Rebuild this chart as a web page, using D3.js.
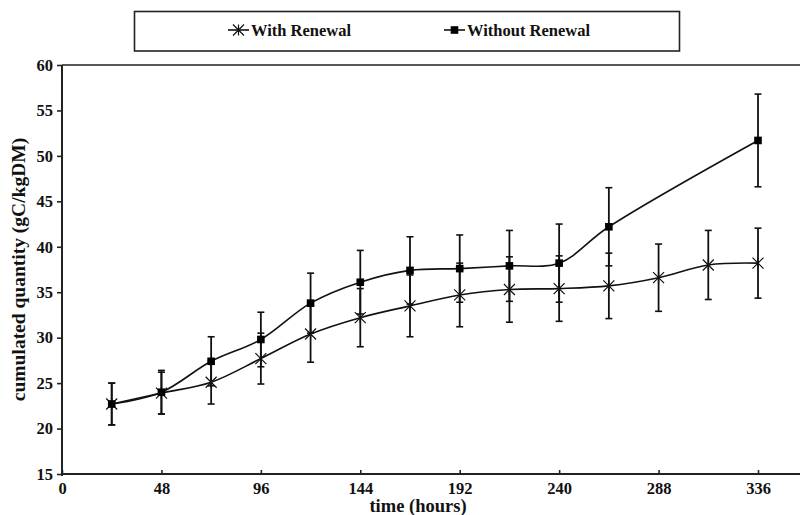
<!DOCTYPE html>
<html>
<head>
<meta charset="utf-8">
<script src="https://cdn.jsdelivr.net/npm/d3@7"></script>
<style>
  html, body { margin: 0; padding: 0; background: #fff; }
  svg { display: block; }
  text { font-family: "Liberation Serif", "Times New Roman", serif; font-weight: bold; fill: #111; }
</style>
</head>
<body>
<svg id="chart" width="800" height="515"></svg>
<script>
// Sampling times (hours)
const hoursWith = [24, 48, 72, 96, 120, 144, 168, 192, 216, 240, 264, 288, 312, 336];
const valuesWith = [22.7, 23.9, 25.1, 27.7, 30.4, 32.2, 33.5, 34.7, 35.3, 35.4, 35.7, 36.6, 38.0, 38.2];
const errorsWith = [2.3, 2.3, 2.4, 2.8, 3.1, 3.2, 3.4, 3.5, 3.6, 3.6, 3.6, 3.7, 3.8, 3.85];

const hoursWithout = [24, 48, 72, 96, 120, 144, 168, 192, 216, 240, 264, 336];
const valuesWithout = [22.7, 24.0, 27.4, 29.8, 33.8, 36.1, 37.4, 37.6, 37.9, 38.2, 42.2, 51.7];
const errorsWithout = [2.3, 2.4, 2.7, 3.0, 3.3, 3.5, 3.7, 3.7, 3.9, 4.3, 4.3, 5.1];

const xTicks = [0, 48, 96, 144, 192, 240, 288, 336];
const yTicks = [15, 20, 25, 30, 35, 40, 45, 50, 55, 60];
const seriesNames = ["With Renewal", "Without Renewal"];

const svg = d3.select("#chart");
const margin = { left: 62, top: 65, bottom: 474 };

const x = d3.scaleLinear().domain([0, 360]).range([margin.left, margin.left + 360 * (696 / 336)]);
const y = d3.scaleLinear().domain([15, 60]).range([margin.bottom, margin.top]);

// Plot frame (top border runs off the right side)
svg.append("line")
  .attr("x1", x(0)).attr("x2", 800)
  .attr("y1", y(60)).attr("y2", y(60))
  .attr("stroke", "#222").attr("stroke-width", 1.6);

// X axis: ticks point inward
const xAxis = svg.append("g")
  .attr("transform", `translate(0,${y(15)})`)
  .call(d3.axisBottom(x).tickValues(xTicks).tickSize(-4).tickPadding(8).tickFormat(d3.format("d")));
xAxis.select(".domain").attr("d", `M${x(0)},0H800`).attr("stroke", "#222").attr("stroke-width", 2);
xAxis.selectAll(".tick line").attr("stroke", "#222").attr("stroke-width", 1.6);
xAxis.selectAll(".tick text").style("font-size", "16.5px");

// Y axis: ticks point outward
const yAxis = svg.append("g")
  .attr("transform", `translate(${x(0)},0)`)
  .call(d3.axisLeft(y).tickValues(yTicks).tickSize(5).tickPadding(4).tickFormat(d3.format("d")));
yAxis.select(".domain").attr("d", `M0,${y(60)}V${y(15) + 2}`).attr("stroke", "#222").attr("stroke-width", 2);
yAxis.selectAll(".tick line").attr("stroke", "#222").attr("stroke-width", 1.6);
yAxis.selectAll(".tick text").style("font-size", "16.5px");

// Axis titles
svg.append("text")
  .attr("x", 418).attr("y", 512)
  .attr("text-anchor", "middle").style("font-size", "18.5px")
  .text("time (hours)");
svg.append("text")
  .attr("transform", `translate(25,${(y(15) + y(60)) / 2}) rotate(-90)`)
  .attr("text-anchor", "middle").style("font-size", "19.5px")
  .text("cumulated quantity (gC/kgDM)");

const withData = hoursWith.map((h, i) => ({ h, v: valuesWith[i], e: errorsWith[i] }));
const withoutData = hoursWithout.map((h, i) => ({ h, v: valuesWithout[i], e: errorsWithout[i] }));

const line = d3.line().x(d => x(d.h)).y(d => y(d.v)).curve(d3.curveCatmullRom.alpha(0.5));

function drawErrorBars(data) {
  const g = svg.append("g").attr("stroke", "#111").attr("stroke-width", 1.8);
  data.forEach(d => {
    g.append("line").attr("x1", x(d.h)).attr("x2", x(d.h))
      .attr("y1", y(d.v - d.e)).attr("y2", y(d.v + d.e));
    [d.v - d.e, d.v + d.e].forEach(v => {
      g.append("line").attr("x1", x(d.h) - 3.5).attr("x2", x(d.h) + 3.5)
        .attr("y1", y(v)).attr("y2", y(v)).attr("stroke-width", 1.6);
    });
  });
}
drawErrorBars(withData);
drawErrorBars(withoutData);

svg.append("path").datum(withData).attr("d", line)
  .attr("fill", "none").attr("stroke", "#111").attr("stroke-width", 1.6);
svg.append("path").datum(withoutData).attr("d", line)
  .attr("fill", "none").attr("stroke", "#111").attr("stroke-width", 1.6);

function star(g, cx, cy) {
  const r = 5.5;
  g.append("path")
    .attr("d", `M${cx - r},${cy - r}L${cx + r},${cy + r}M${cx - r},${cy + r}L${cx + r},${cy - r}M${cx},${cy - r}L${cx},${cy + r}`)
    .attr("stroke", "#111").attr("stroke-width", 1.2).attr("fill", "none");
}
function square(g, cx, cy) {
  g.append("rect").attr("x", cx - 3.8).attr("y", cy - 3.8)
    .attr("width", 7.6).attr("height", 7.6).attr("fill", "#000");
}

const markers = svg.append("g");
withData.forEach(d => star(markers, x(d.h), y(d.v)));
withoutData.forEach(d => square(markers, x(d.h), y(d.v)));

// Legend
const lg = svg.append("g");
lg.append("rect").attr("x", 134.5).attr("y", 11.5).attr("width", 545).attr("height", 39.5)
  .attr("fill", "#fff").attr("stroke", "#222").attr("stroke-width", 1.6);
const legendItems = [
  { name: seriesNames[0], x0: 228, draw: star },
  { name: seriesNames[1], x0: 444, draw: square }
];
legendItems.forEach(it => {
  lg.append("line").attr("x1", it.x0).attr("x2", it.x0 + 21).attr("y1", 30).attr("y2", 30)
    .attr("stroke", "#111").attr("stroke-width", 1.6);
  it.draw(lg, it.x0 + 10.5, 30);
  lg.append("text").attr("x", it.x0 + 23).attr("y", 35.5)
    .style("font-size", "16.5px").text(it.name);
});
</script>
</body>
</html>
